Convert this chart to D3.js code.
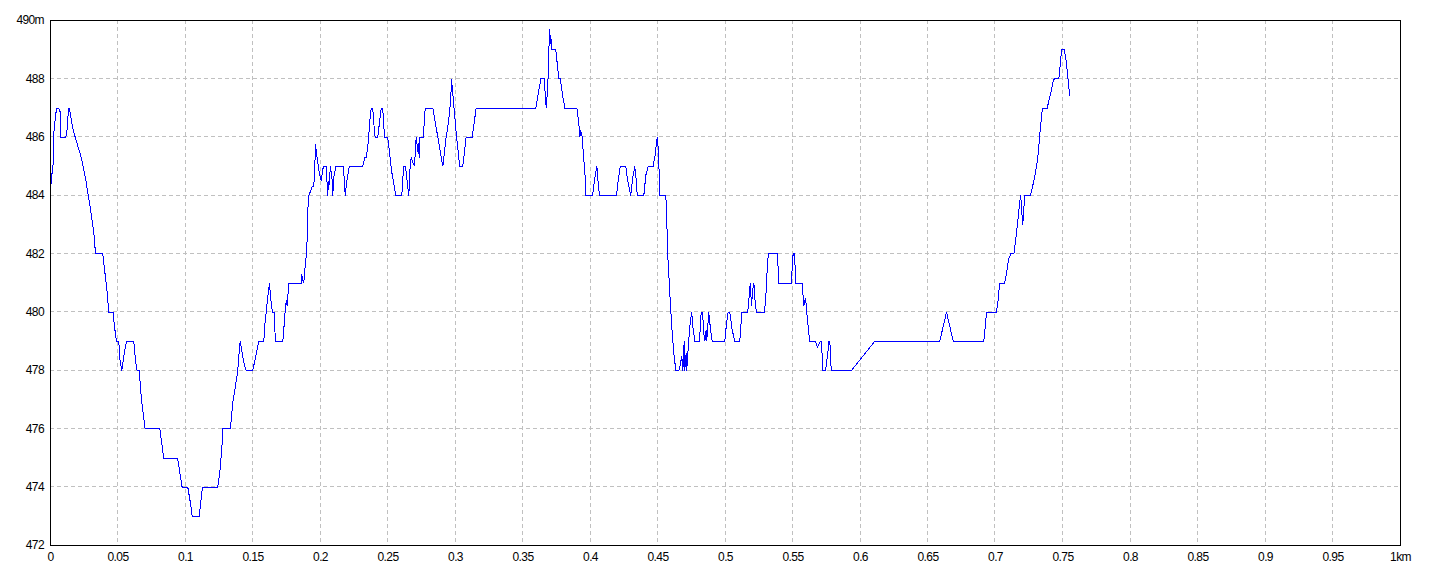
<!DOCTYPE html>
<html>
<head>
<meta charset="utf-8">
<script src="https://cdn.jsdelivr.net/npm/d3@7"></script>
<style>
  html, body { margin: 0; padding: 0; background: #ffffff; }
  svg { display: block; }
  .lbl { font-family: "Liberation Sans", Arial, sans-serif; font-size: 12px; fill: #000; letter-spacing: -0.6px; }
</style>
</head>
<body>
<svg id="chart" width="1440" height="576"></svg>
<script>
// Distance along the track (metres) and elevation (m)
const distanceM = [
  0,0.7,1.3,2.0,2.4,3.2,3.9,4.7,6.1,6.9,7.6,7.7,11.3,12.1,12.6,13.1,13.6,14.3,15.0,16.5,
  18.3,20.2,22.2,24.2,25.9,27.6,29.4,30.9,32.4,33.3,38.7,40.2,41.7,43.2,46.4,47.4,48.9,50.6,51.3,52.8,
  54.3,55.8,56.5,61.7,63.2,64.2,65.7,67.4,70.1,81.0,83.0,83.9,94.1,95.8,97.5,101.7,103.5,105.0,110.1,111.6,
  112.6,123.9,125.4,126.9,127.6,133.3,135.0,137.8,138.7,140.0,140.5,142.0,143.5,145.0,149.8,152.1,154.3,158.0,159.0,159.8,
  160.9,162.2,163.0,164.4,166.1,166.4,172.1,173.3,174.1,174.8,175.3,176.5,185.7,186.1,186.9,187.6,188.9,189.6,190.1,190.6,
  191.3,193.1,193.8,195.0,195.8,196.3,197.5,199.0,200.5,201.7,202.4,204.4,205.2,205.7,206.1,206.7,207.4,208.7,209.1,209.8,
  211.3,217.0,218.3,219.5,221.3,231.3,232.8,233.9,235.3,236.8,237.6,238.7,239.8,240.5,242.4,243.7,245.0,246.1,247.4,249.8,
  251.3,252.8,254.3,255.8,260.2,261.3,261.7,263.0,264.2,265.4,266.4,267.2,268.7,269.6,270.9,272.1,272.6,273.1,273.6,276.1,
  277.6,283.2,290.6,292.8,295.0,296.5,297.0,298.0,300.2,302.4,303.2,305.4,307.9,312.4,315.3,359.5,363.2,365.7,367.2,368.4,
  368.9,369.6,370.1,370.6,371.1,374.3,376.5,377.6,379.8,381.0,389.9,391.3,392.1,392.6,393.6,394.6,396.1,396.5,401.5,403.2,
  404.7,406.1,406.9,419.3,420.5,422.0,426.1,427.6,429.8,431.3,432.8,433.9,434.6,439.5,441.0,442.7,446.4,447.9,449.4,450.4,
  451.3,455.8,456.8,457.3,458.7,460.2,461.7,463.2,465.4,466.1,466.9,467.6,468.4,469.4,469.8,470.9,471.3,472.4,473.5,475.0,
  475.8,477.3,480.7,482.0,483.0,483.9,484.7,485.7,486.1,487.6,488.7,490.1,499.5,500.7,502.0,503.2,504.9,506.9,510.6,512.1,
  516.5,517.8,518.3,519.3,520.0,521.0,522.2,523.0,528.9,530.1,531.1,531.9,538.5,539.5,548.7,550.1,551.1,552.1,556.8,558.0,
  559.3,560.2,561.7,562.4,566.7,568.1,570.4,571.1,572.1,574.1,575.8,576.5,577.3,578.3,593.3,610.6,658.7,663.7,668.7,691.3,
  692.8,693.3,700.7,702.2,703.0,706.7,708.1,709.6,711.3,713.6,715.0,716.5,718.0,718.7,719.5,720.2,720.7,721.7,725.9,727.4,
  728.9,730.4,731.8,732.6,734.1,734.8,738.3,739.8,741.3,742.7,743.5,746.9,748.4,748.9,750.9,752.4,753.9,755.0
];
const elevationM = [
  484.4,484.4,484.9,485.1,486.1,486.5,486.8,487.0,487.0,486.9,486.8,486.0,486.0,486.15,486.5,486.8,487.0,486.9,486.7,486.3,
  486.0,485.7,485.4,485.0,484.6,484.1,483.6,483.1,482.6,482.0,482.0,481.4,480.8,480.0,480.0,479.5,479.0,479.0,478.4,478.0,
  478.5,478.9,479.0,479.0,478.25,478.0,478.0,477.0,476.0,476.0,475.3,475.0,475.0,474.5,474.0,474.0,473.5,473.0,473.0,473.6,
  474.0,474.0,474.5,475.3,476.0,476.0,476.9,477.7,478.0,478.8,479.0,478.6,478.2,478.0,478.0,478.5,479.0,479.0,479.7,480.0,
  480.5,481.0,480.5,480.0,480.0,479.0,479.0,479.7,480.2,480.4,480.2,481.0,481.0,481.3,481.1,481.0,481.7,482.0,482.5,483.5,
  484.0,484.2,484.3,484.3,485.0,485.75,485.3,484.8,484.5,484.9,485.0,485.0,484.0,484.5,484.2,484.6,485.0,484.5,484.0,484.6,
  485.0,485.0,484.0,484.5,485.0,485.0,485.3,485.3,485.8,486.7,487.0,487.0,486.3,486.0,486.0,486.5,487.0,487.0,486.0,486.0,
  485.4,484.8,484.4,484.0,484.0,484.8,485.0,485.0,484.5,484.0,485.0,485.3,485.1,485.0,486.0,485.5,485.8,485.3,486.0,486.0,
  487.0,487.0,485.0,485.9,486.6,487.3,488.0,487.5,486.3,485.3,485.0,485.0,486.0,486.0,487.0,487.0,488.0,488.0,487.0,487.8,
  488.5,489.7,489.2,489.5,489.0,489.0,488.0,488.0,487.3,487.0,487.0,486.5,486.0,486.2,486.1,485.5,484.6,484.0,484.0,484.6,
  485.0,484.2,484.0,484.0,484.5,485.0,485.0,484.5,484.0,484.6,485.0,484.5,484.0,484.0,484.7,485.0,485.0,485.4,486.0,485.5,
  484.0,484.0,482.7,481.9,480.7,479.5,478.6,478.0,478.0,478.1,478.3,478.5,478.0,479.0,478.0,478.6,478.0,478.8,479.5,480.0,
  479.5,479.0,479.0,480.0,480.0,479.3,479.0,479.4,479.0,480.0,479.5,479.0,479.0,479.6,480.0,480.0,479.4,479.0,479.0,480.0,
  480.0,480.7,481.0,480.2,480.7,481.0,480.2,480.0,480.0,480.7,481.7,482.0,482.0,481.0,481.0,482.0,482.0,481.0,481.0,480.2,
  480.5,480.0,479.3,479.0,479.0,478.8,479.0,479.0,478.0,478.0,478.6,479.0,479.0,478.0,478.0,479.0,479.0,480.0,479.0,479.0,
  479.7,480.0,480.0,480.5,481.0,481.0,481.3,481.8,482.0,482.0,482.5,483.1,483.8,484.0,483.4,483.0,483.4,484.0,484.0,484.3,
  484.6,485.0,485.5,486.0,486.7,487.0,487.0,487.3,487.6,487.9,488.0,488.0,488.7,489.0,489.0,488.6,487.9,487.4
];
const xTickValues = [0,50,100,150,200,250,300,350,400,450,500,550,600,650,700,750,800,850,900,950,1000];
const xTickLabels = ["0","0.05","0.1","0.15","0.2","0.25","0.3","0.35","0.4","0.45","0.5","0.55","0.6","0.65","0.7","0.75","0.8","0.85","0.9","0.95","1km"];
const yTickValues = [472,474,476,478,480,482,484,486,488,490];
const yTickLabels = ["472","474","476","478","480","482","484","486","488","490m"];

(function () {
const svg = d3.select("#chart");
const mL = 50, mR = 1400, mT = 20, mB = 545;
const x = d3.scaleLinear().domain([0, 1000]).range([mL, mR]);
const y = d3.scaleLinear().domain([472, 490]).range([mB, mT]);

// grid
const grid = svg.append("g");
grid.selectAll("line.vg").data(xTickValues.slice(1, -1)).enter().append("line")
  .attr("x1", d => Math.floor(x(d)) + 0.5).attr("x2", d => Math.floor(x(d)) + 0.5)
  .attr("y1", mT).attr("y2", mB)
  .attr("stroke", "#c0c0c0").attr("stroke-width", 1).attr("stroke-dasharray", "4,3");
grid.selectAll("line.hg").data(yTickValues.slice(1, -1)).enter().append("line")
  .attr("y1", d => Math.floor(y(d)) + 0.5).attr("y2", d => Math.floor(y(d)) + 0.5)
  .attr("x1", mL).attr("x2", mR)
  .attr("stroke", "#c0c0c0").attr("stroke-width", 1).attr("stroke-dasharray", "4,3");

// data line
const n = Math.min(distanceM.length, elevationM.length);
const pts = distanceM.slice(0, n).map((d, i) => [d, elevationM[i]]);
const line = d3.line().x(d => x(d[0]) + 0.5).y(d => y(d[1]) + 0.5);
svg.append("path").datum(pts)
  .attr("d", line).attr("fill", "none")
  .attr("stroke", "#0000ff").attr("stroke-width", 1)
  .attr("shape-rendering", "crispEdges");

// frame
svg.append("rect")
  .attr("x", mL + 0.5).attr("y", mT + 0.5)
  .attr("width", mR - mL).attr("height", mB - mT)
  .attr("fill", "none").attr("stroke", "#000").attr("stroke-width", 1)
  .attr("shape-rendering", "crispEdges");

// axes labels via d3 axes (no tick lines)
const xAxis = d3.axisBottom(x).tickValues(xTickValues)
  .tickFormat((d, i) => xTickLabels[i]).tickSize(0).tickPadding(7);
const gx = svg.append("g").attr("transform", `translate(0,${mB})`).call(xAxis);
gx.select(".domain").remove();
gx.selectAll("text").attr("class", "lbl");
gx.attr("font-family", null).attr("font-size", null);

const yAxis = d3.axisLeft(y).tickValues(yTickValues)
  .tickFormat((d, i) => yTickLabels[i]).tickSize(0).tickPadding(6);
const gy = svg.append("g").attr("transform", `translate(${mL},0)`).call(yAxis);
gy.select(".domain").remove();
gy.selectAll("text").attr("class", "lbl");
gy.attr("font-family", null).attr("font-size", null);
})();
</script>
</body>
</html>
